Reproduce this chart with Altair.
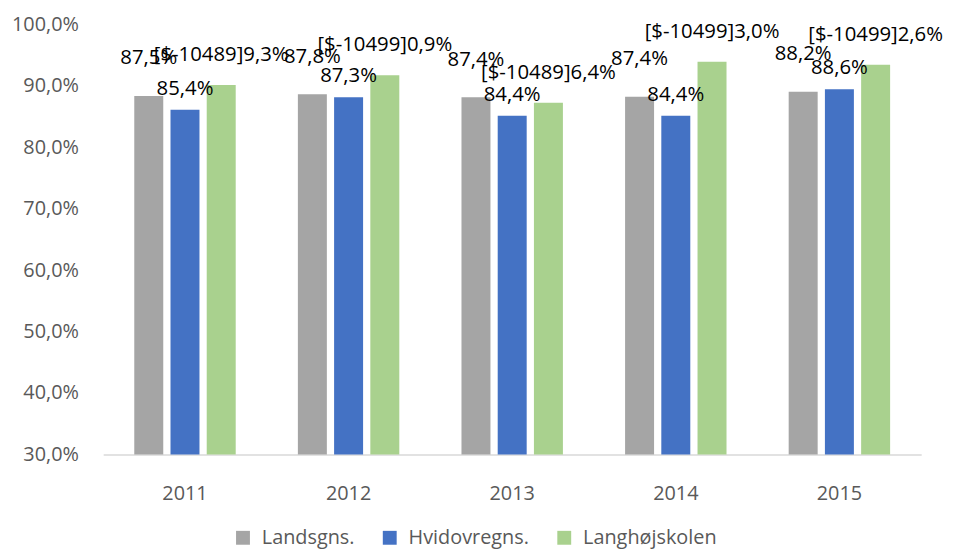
import altair as alt
import pandas as pd

years = ["2011", "2012", "2013", "2014", "2015"]
series = ["Landsgns.", "Hvidovregns.", "Langhøjskolen"]
# bar heights as drawn
landsgns = [0.883, 0.886, 0.881, 0.882, 0.890]
hvidovregns = [0.861, 0.881, 0.851, 0.851, 0.894]
langhoj = [0.901, 0.917, 0.872, 0.939, 0.934]
# data labels as printed
landsgns_labels = ["87,5%", "87,8%", "87,4%", "87,4%", "88,2%"]
hvidovregns_labels = ["85,4%", "87,3%", "84,4%", "84,4%", "88,6%"]
langhoj_labels = ["[$-10489]9,3%", "[$-10499]0,9%", "[$-10489]6,4%", "[$-10499]3,0%", "[$-10499]2,6%"]
colors = ["#A5A5A5", "#4472C4", "#A9D18E"]
y_ticks = [0.3, 0.4, 0.5, 0.6, 0.7, 0.8, 0.9, 1.0]
Y_MIN, Y_MAX = 0.3, 1.0

rows = []
for i, y in enumerate(years):
    rows.append({"year": y, "series": series[0], "value": landsgns[i], "label": landsgns_labels[i]})
    rows.append({"year": y, "series": series[1], "value": hvidovregns[i], "label": hvidovregns_labels[i]})
    rows.append({"year": y, "series": series[2], "value": langhoj[i], "label": langhoj_labels[i]})
df = pd.DataFrame(rows)

FONT = "Open Sans"

x = alt.X("year:N", title=None, sort=years,
          scale=alt.Scale(paddingInner=0.38, paddingOuter=0.19),
          axis=alt.Axis(labelAngle=0, ticks=False, domainColor="#D9D9D9", domainWidth=1.5,
                        labelColor="#595959", labelFontSize=20, labelFont=FONT, labelPadding=29))
xo = alt.XOffset("series:N", sort=series, scale=alt.Scale(paddingInner=0.2))
y = alt.Y("value:Q", title=None,
          scale=alt.Scale(domain=[Y_MIN, Y_MAX], zero=False, nice=False),
          axis=alt.Axis(values=y_ticks, grid=False, domain=False, ticks=False,
                        labelExpr="replace(format(datum.value, '.1%'), '.', ',')",
                        labelColor="#595959", labelFontSize=20, labelFont=FONT, labelPadding=25))

bars = alt.Chart(df).mark_bar().encode(
    x=x, xOffset=xo, y=y, y2=alt.datum(Y_MIN),
    color=alt.Color("series:N", sort=series, title=None,
                    scale=alt.Scale(domain=series, range=colors),
                    legend=alt.Legend(orient="none", legendX=131, legendY=508,
                                      direction="horizontal", symbolType="square",
                                      symbolSize=196, symbolStrokeWidth=0, labelFontSize=20,
                                      labelFont=FONT, labelColor="#595959", columnPadding=25,
                                      labelOffset=9)),
)

dys = {series[0]: -38, series[1]: -21, series[2]: -30}
texts = []
for s in series:
    texts.append(
        alt.Chart(df).transform_filter(alt.datum.series == s)
        .mark_text(dy=dys[s], fontSize=20.5, font=FONT, color="#000000")
        .encode(x=alt.X("year:N", sort=years), xOffset=alt.XOffset("series:N", sort=series),
                y="value:Q", text="label:N")
    )

chart = alt.layer(bars, *texts).properties(
    width=825, height=434,
    autosize=alt.AutoSizeParams(type="none"),
    padding={"left": 96, "top": 14, "right": 24, "bottom": 94},
).configure_view(stroke=None).configure_legend(labelLimit=300)

chart.save("out.html", embed_options={"renderer": "svg", "actions": False})
